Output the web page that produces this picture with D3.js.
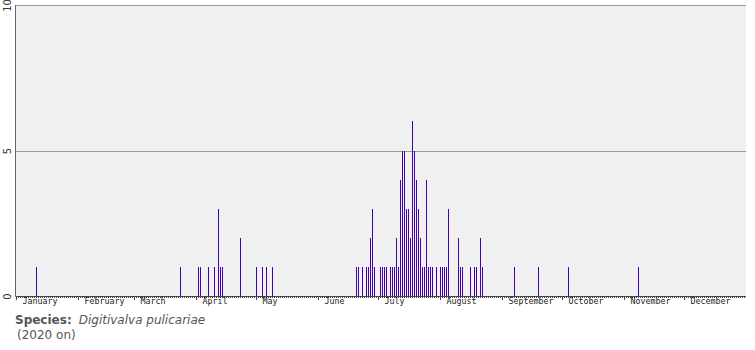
<!DOCTYPE html>
<html>
<head>
<meta charset="utf-8">
<script src="https://cdn.jsdelivr.net/npm/d3@7"></script>
<style>
  html, body { margin: 0; padding: 0; background: #fff; }
  svg { display: block; }
</style>
</head>
<body>
<svg id="chart" width="755" height="350"></svg>
<script>
// Daily record counts (month-day), single season view
const dates = ["01-11","03-24","04-02","04-03","04-07","04-10","04-12","04-13","04-14","04-23",
  "05-01","05-04","05-06","05-09","06-20","06-21","06-23","06-25","06-26","06-27","06-28","06-29",
  "07-02","07-03","07-04","07-05","07-07","07-08","07-09","07-10","07-11","07-12","07-13","07-14",
  "07-15","07-16","07-17","07-18","07-19","07-20","07-21","07-22","07-23","07-24","07-25","07-26",
  "07-27","07-28","07-30","08-01","08-02","08-03","08-04","08-05","08-10","08-11","08-12","08-16",
  "08-18","08-19","08-21","08-22","09-07","09-19","10-04","11-08"];
const counts = [1,1,1,1,1,1,3,1,1,2,
  1,1,1,1,1,1,1,1,1,2,3,1,
  1,1,1,1,1,1,1,2,1,4,5,5,
  3,3,2,6,5,4,3,2,1,1,4,1,
  1,1,1,1,1,1,1,3,2,1,1,1,
  1,1,2,1,1,1,1,1];
const monthLabels = ["January","February","March","April","May","June","July","August","September","October","November","December"];
const yTicks = [0, 5, 10];
const speciesName = "Digitivalva pulicariae";
const periodLabel = "(2020 on)";

(function () {
const parse = d3.timeParse("%m-%d"); // year 1900 (non-leap)
const data = dates.map((d, i) => ({ date: parse(d), count: counts[i] }));

const svg = d3.select("#chart");
const pL = 16, pR = 746, pT = 5, pB = 296;

const x = d3.scaleTime()
  .domain([new Date(1900, 0, 1), new Date(1901, 0, 1)])
  .range([pL, pR]);
const y = d3.scaleLinear().domain([0, 10]).range([pB, pT]);

// plot background
svg.append("rect")
  .attr("x", pL).attr("y", pT)
  .attr("width", pR - pL).attr("height", pB - pT)
  .attr("fill", "#f0f0f0");

// gridlines
svg.append("g").selectAll("line")
  .data(yTicks.filter(v => v > 0))
  .join("line")
  .attr("x1", pL).attr("x2", pR)
  .attr("y1", d => Math.round(y(d)) + 0.5).attr("y2", d => Math.round(y(d)) + 0.5)
  .attr("stroke", "#999").attr("stroke-width", 1)
  .attr("shape-rendering", "crispEdges");

// bars
svg.append("g").selectAll("rect")
  .data(data)
  .join("rect")
  .attr("x", d => Math.round(x(d.date)))
  .attr("width", 1)
  .attr("y", d => y(d.count))
  .attr("height", d => pB - y(d.count))
  .attr("fill", "#4200b0")
  .attr("shape-rendering", "crispEdges");

// bottom axis: minor (daily) ticks
const months = d3.timeMonth.range(new Date(1900, 0, 1), new Date(1901, 0, 1));
const minorAxis = d3.axisBottom(x)
  .tickValues(d3.timeDay.range(new Date(1900, 0, 1), new Date(1901, 0, 1)))
  .tickSize(2).tickSizeOuter(0).tickFormat("");
const gMinor = svg.append("g")
  .attr("transform", `translate(0,${pB})`)
  .call(minorAxis);
gMinor.select(".domain").remove();
gMinor.selectAll(".tick line").attr("stroke", "#444").attr("shape-rendering", "crispEdges");

// major (monthly) ticks with labels
const majorAxis = d3.axisBottom(x)
  .tickValues(months)
  .tickSize(4).tickSizeOuter(0)
  .tickFormat((d, i) => monthLabels[i]);
const gMajor = svg.append("g")
  .attr("transform", `translate(0,${pB})`)
  .call(majorAxis);
gMajor.select(".domain").remove();
gMajor.selectAll(".tick line").attr("stroke", "#444").attr("shape-rendering", "crispEdges");
gMajor.selectAll(".tick text")
  .attr("text-anchor", "start")
  .attr("x", 6).attr("y", 2.5).attr("dy", "0.71em")
  .attr("fill", "#222")
  .style("font-family", "'DejaVu Sans Mono', monospace")
  .style("font-size", "8.3px");

// axis lines
svg.append("line")
  .attr("x1", pL - 1).attr("x2", pR)
  .attr("y1", pB + 0.5).attr("y2", pB + 0.5)
  .attr("stroke", "#444").attr("shape-rendering", "crispEdges");
svg.append("line")
  .attr("x1", pL - 0.5).attr("x2", pL - 0.5)
  .attr("y1", pT).attr("y2", pB + 1)
  .attr("stroke", "#666").attr("stroke-width", 1.5).attr("shape-rendering", "crispEdges");

// left axis labels (rotated)
const yAxis = d3.axisLeft(y).tickValues(yTicks).tickSize(0).tickFormat(d3.format("d"));
const gY = svg.append("g").attr("transform", `translate(${pL - 5},0)`).call(yAxis);
gY.select(".domain").remove();
gY.selectAll(".tick text")
  .attr("x", 0).attr("dy", 0)
  .attr("text-anchor", "middle")
  .attr("transform", "rotate(-90)")
  .attr("fill", "#333")
  .style("font-family", "'DejaVu Sans', sans-serif")
  .style("font-size", "10px");

// footer
const footer = svg.append("text")
  .attr("x", 15).attr("y", 324)
  .attr("fill", "#555")
  .style("font-family", "'DejaVu Sans', sans-serif")
  .style("font-size", "12px");
footer.append("tspan").attr("font-weight", "bold").text("Species:");
footer.append("tspan").attr("font-style", "italic").attr("dx", 7).text(speciesName);
svg.append("text")
  .attr("x", 17).attr("y", 339)
  .attr("fill", "#555")
  .style("font-family", "'DejaVu Sans', sans-serif")
  .style("font-size", "12px")
  .text(periodLabel);
})();
</script>
</body>
</html>
